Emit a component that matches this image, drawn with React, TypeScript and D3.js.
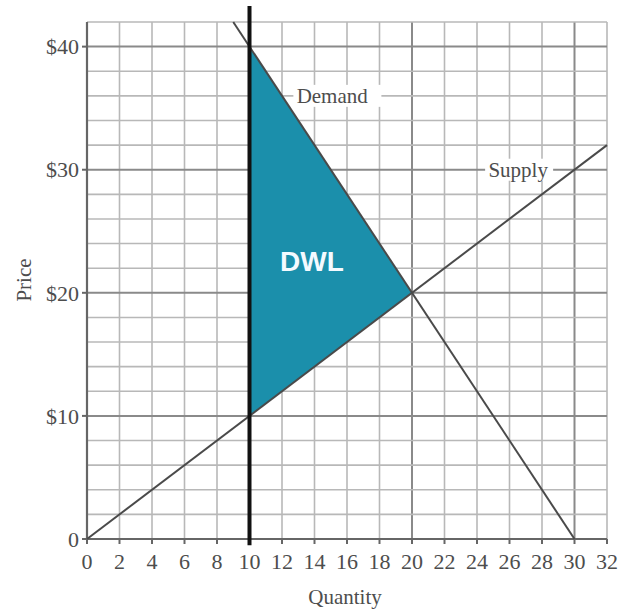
import React from "react";
import * as d3 from "d3";

const xTicks = [0, 2, 4, 6, 8, 10, 12, 14, 16, 18, 20, 22, 24, 26, 28, 30, 32];
const yTickValues = [0, 10, 20, 30, 40];
const yTickLabels = ["0", "$10", "$20", "$30", "$40"];
const hGrid = d3.range(0, 43, 2);
const vGrid = d3.range(0, 33, 2);
const demand: [number, number][] = [[9, 42], [30, 0]];
const supply: [number, number][] = [[0, 0], [32, 32]];
const dwl: [number, number][] = [[10, 40], [20, 20], [10, 10]];
const quotaQ = 10;
const quotaRange = [-0.5, 43.3];

const W = 621, H = 610;
const x = d3.scaleLinear().domain([0, 32]).range([87, 607]);
const y = d3.scaleLinear().domain([0, 42]).range([539, 22]);
const line = d3.line<[number, number]>().x(d => x(d[0])).y(d => y(d[1]));

const serif = "'Liberation Serif', 'DejaVu Serif', Times, serif";
const txt = "#4d4d4d";

export default function App() {
  return (
    <svg width={W} height={H} style={{ position: "absolute", left: 0, top: 0, background: "#fff" }}>
      <rect width={W} height={H} fill="#fff" />
      {vGrid.map(v => (
        <line key={"v" + v} x1={x(v)} x2={x(v)} y1={y(0)} y2={y(42)}
          stroke={v % 10 === 0 ? "#8a8a8a" : "#b8b8b8"} strokeWidth={v % 10 === 0 ? 2 : 1.6} />
      ))}
      {hGrid.map(v => (
        <line key={"h" + v} x1={x(0)} x2={x(32)} y1={y(v)} y2={y(v)}
          stroke={v % 10 === 0 ? "#8a8a8a" : "#b8b8b8"} strokeWidth={v % 10 === 0 ? 2 : 1.6} />
      ))}
      <line x1={x(0)} x2={x(0)} y1={y(0)} y2={y(42)} stroke="#666" strokeWidth={2.2} />
      <line x1={x(0)} x2={x(32)} y1={y(0)} y2={y(0)} stroke="#666" strokeWidth={2.2} />
      {yTickValues.map(v => (
        <line key={"yt" + v} x1={x(0) - 5} x2={x(0)} y1={y(v)} y2={y(v)} stroke="#666" strokeWidth={2} />
      ))}
      {xTicks.map(v => (
        <line key={"xt" + v} x1={x(v)} x2={x(v)} y1={y(0)} y2={y(0) + 5} stroke="#666" strokeWidth={2} />
      ))}
      <path d={line(dwl)! + "Z"} fill="#1b8fab" />
      <path d={line(demand)!} stroke="#4a4a4a" strokeWidth={2} fill="none" />
      <path d={line(supply)!} stroke="#4a4a4a" strokeWidth={2} fill="none" />
      <line x1={x(quotaQ)} x2={x(quotaQ)} y1={y(quotaRange[0])} y2={y(quotaRange[1])} stroke="#111" strokeWidth={4} />
      {yTickValues.map((v, i) => (
        <text key={"yl" + v} x={x(0) - 8} y={y(v)} dy="0.35em" textAnchor="end"
          fontFamily={serif} fontSize={22} fill={txt}>{yTickLabels[i]}</text>
      ))}
      {xTicks.map(v => (
        <text key={"xl" + v} x={x(v)} y={y(0) + 22} dy="0.35em" textAnchor="middle"
          fontFamily={serif} fontSize={22} fill={txt}>{v}</text>
      ))}
      <text x={345} y={597} dy="0.35em" textAnchor="middle" fontFamily={serif} fontSize={21} fill={txt}>Quantity</text>
      <text transform={`translate(24,280) rotate(-90)`} dy="0.35em" textAnchor="middle" fontFamily={serif} fontSize={21} fill={txt}>Price</text>
      <g>
        <rect x={x(12.7)} y={y(36) - 11} width={88} height={22} fill="#fff" />
        <text x={x(12.9)} y={y(36)} dy="0.35em" fontFamily={serif} fontSize={21} fill={txt}>Demand</text>
      </g>
      <g>
        <rect x={x(24.5)} y={y(30) - 11} width={68} height={22} fill="#fff" />
        <text x={x(24.7)} y={y(30)} dy="0.35em" fontFamily={serif} fontSize={21} fill={txt}>Supply</text>
      </g>
      <text x={312} y={261} dy="0.36em" textAnchor="middle" fontFamily="'Liberation Sans', Arial, sans-serif"
        fontWeight="bold" fontSize={28} fill="#f4faff">DWL</text>
    </svg>
  );
}
